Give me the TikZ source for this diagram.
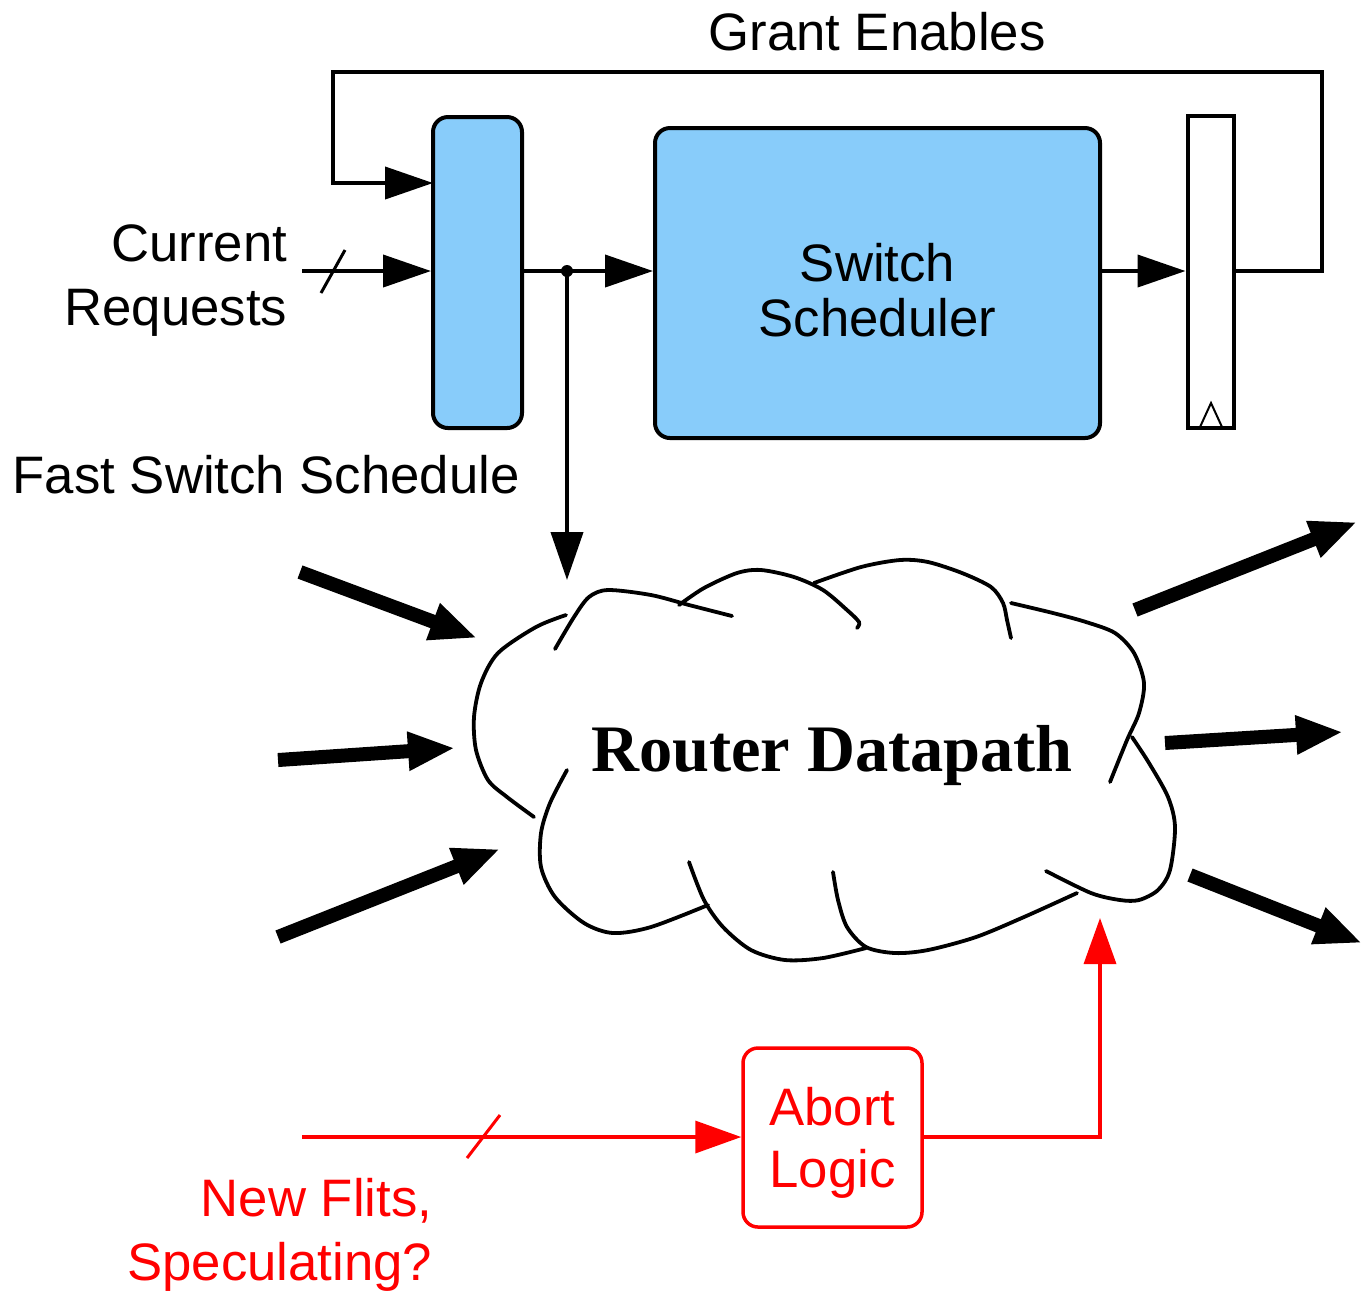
\documentclass[tikz,border=0pt]{standalone}
\usepackage{tikz}
\usepackage{xcolor}
\usepackage{fontspec}
\setmainfont{Liberation Sans}
\newfontfamily\serifbf{Liberation Serif}
\usetikzlibrary{arrows.meta, positioning, calc}
\definecolor{blockblue}{HTML}{88CCFA}
\definecolor{abortred}{HTML}{FF0000}

\begin{document}
\begin{tikzpicture}[
  block/.style={rectangle, draw=black, fill=blockblue, line width=0.4mm, rounded corners=1.5mm, inner sep=0pt, align=center},
  latch/.style={rectangle, draw=black, fill=white, line width=0.4mm, inner sep=0pt, minimum width=0.46cm, minimum height=3.12cm},
  redblock/.style={rectangle, draw=abortred, line width=0.35mm, rounded corners=1.5mm, minimum size=1.79cm, inner sep=0pt, align=center, text=abortred},
  label/.style={inner sep=0pt, align=right, font=\fontsize{15}{18.2}\selectfont},
  wire/.style={line width=0.4mm, -{Triangle[length=4.8mm, width=3.2mm]}},
  redwire/.style={line width=0.35mm, draw=abortred, -{Triangle[length=4.6mm, width=3.2mm]}},
  cloudline/.style={line width=0.38mm, line cap=round},
  fat/.style={line width=1.4mm, -{Triangle[length=4.7mm, width=3.6mm]}}
]
  \useasboundingbox (0,0) rectangle (13.63,-12.92);

  % scheduler path
  \node[block, minimum width=0.89cm, minimum height=3.11cm] (mux) at (4.775,-2.725) {};
  \node[block, minimum width=4.45cm, minimum height=3.10cm] (sched) at (8.775,-2.83) {};
  \node[inner sep=0pt, align=center, font=\fontsize{15}{15.6}\selectfont] (schedtxt) at ([yshift=-0.07cm]sched.center) {Switch\\Scheduler};
  \node[latch] (ff) at (12.105,-2.72) {};
  \draw[line width=0.2mm] (12.00,-4.27) -- (12.11,-4.03) -- (12.22,-4.27);

  \node[label] (grant) at (8.77,-0.32) {Grant Enables};
  \node[label, anchor=east] (req) at (2.88,-2.81) {Current\\Requests};
  \node[label, anchor=west] (fast) at (0.12,-4.75) {Fast Switch Schedule};

  \coordinate (reqin) at (3.02,-2.71);
  \coordinate (fbR) at (13.22,-0.72);
  \coordinate (fbL) at (3.33,-0.72);
  \coordinate (gntin) at (4.33,-1.83);
  \coordinate (tap) at (5.67,-2.71);
  \coordinate (fastout) at (5.67,-5.80);

  \draw[wire] (reqin) -- (reqin -| mux.west);
  \draw[line width=0.3mm] (3.21,-2.93) -- (3.45,-2.50);
  \draw[wire] (mux.east |- reqin) -- (sched.west |- reqin);
  \fill (tap) circle (0.06);
  \draw[wire] (tap) -- (fastout);
  \draw[wire] (sched.east |- reqin) -- (ff.west |- reqin);
  \draw[wire] (ff.east |- reqin) -| (fbR) -- (fbL) |- (gntin);

  % datapath cloud
  \draw[cloudline] plot[smooth] coordinates {(5.66,-6.15) (5.36,-6.27) (4.98,-6.53) (4.81,-6.83) (4.74,-7.17) (4.76,-7.50) (4.88,-7.80) (5.07,-7.97) (5.34,-8.17)};
  \draw[cloudline] plot[smooth] coordinates {(5.55,-6.49) (5.74,-6.17) (5.89,-5.97) (6.08,-5.90) (6.51,-5.95) (6.89,-6.05) (7.32,-6.16)};
  \draw[cloudline] plot[smooth] coordinates {(6.79,-6.05) (7.04,-5.88) (7.37,-5.73) (7.61,-5.70) (7.94,-5.77) (8.23,-5.90) (8.47,-6.10) (8.59,-6.22) (8.57,-6.28)};
  \draw[cloudline] plot[smooth] coordinates {(8.14,-5.83) (8.61,-5.67) (9.00,-5.60) (9.28,-5.62) (9.62,-5.73) (9.91,-5.87) (10.03,-6.03) (10.07,-6.20) (10.11,-6.38)};
  \draw[cloudline] plot[smooth] coordinates {(10.11,-6.03) (10.53,-6.13) (10.86,-6.22) (11.15,-6.33) (11.34,-6.53) (11.44,-6.83) (11.39,-7.13) (11.27,-7.40) (11.10,-7.82)};
  \draw[cloudline] plot[smooth] coordinates {(11.32,-7.37) (11.49,-7.63) (11.68,-7.97) (11.75,-8.27) (11.70,-8.70) (11.58,-8.90) (11.39,-9.00) (11.20,-9.00) (10.91,-8.93) (10.46,-8.71)};
  \draw[cloudline] plot[smooth] coordinates {(10.77,-8.93) (10.24,-9.17) (9.76,-9.37) (9.28,-9.50) (8.95,-9.53) (8.66,-9.47) (8.47,-9.27) (8.38,-9.00) (8.33,-8.72)};
  \draw[cloudline] plot[smooth] coordinates {(8.66,-9.48) (8.23,-9.58) (7.85,-9.60) (7.51,-9.50) (7.23,-9.27) (7.04,-9.00) (6.89,-8.62)};
  \draw[cloudline] plot[smooth] coordinates {(5.67,-7.70) (5.50,-8.03) (5.41,-8.33) (5.41,-8.67) (5.55,-8.97) (5.84,-9.23) (6.13,-9.33) (6.51,-9.27) (7.08,-9.05)};
  \node[inner sep=0pt, font=\serifbf\bfseries\fontsize{18.9}{20}\selectfont] (dp) at (8.32,-7.55) {Router Datapath};

  % flits in and out
  \foreach \n/\s/\t in {1/{3.00,-5.72}/{4.77,-6.38}, 2/{2.78,-7.60}/{4.55,-7.48}, 3/{2.78,-9.37}/{5.00,-8.49},
                        4/{11.35,-6.10}/{13.57,-5.22}, 5/{11.65,-7.43}/{13.43,-7.32}, 6/{11.90,-8.75}/{13.62,-9.43}} {
    \coordinate (port\n a) at (\s);
    \coordinate (port\n b) at (\t);
    \draw[fat] (port\n a) -- (port\n b);
  }

  % abort path
  \node[redblock] (abort) at (8.325,-11.375) {};
  \node[inner sep=0pt, align=center, text=abortred, font=\fontsize{15}{17.6}\selectfont] (aborttxt) at ([yshift=-0.05cm]abort.center) {Abort\\Logic};
  \node[label, anchor=east, text=abortred] (flits) at (4.33,-12.35) {New Flits,\\Speculating?};
  \coordinate (flitin) at (3.02,-11.37);
  \coordinate (abortout) at (11.00,-9.18);
  \draw[redwire] (flitin) -- (flitin -| abort.west);
  \draw[line width=0.3mm, abortred] (4.67,-11.58) -- (5.00,-11.15);
  \draw[redwire] (abort.east |- flitin) -| (abortout);
\end{tikzpicture}
\end{document}
